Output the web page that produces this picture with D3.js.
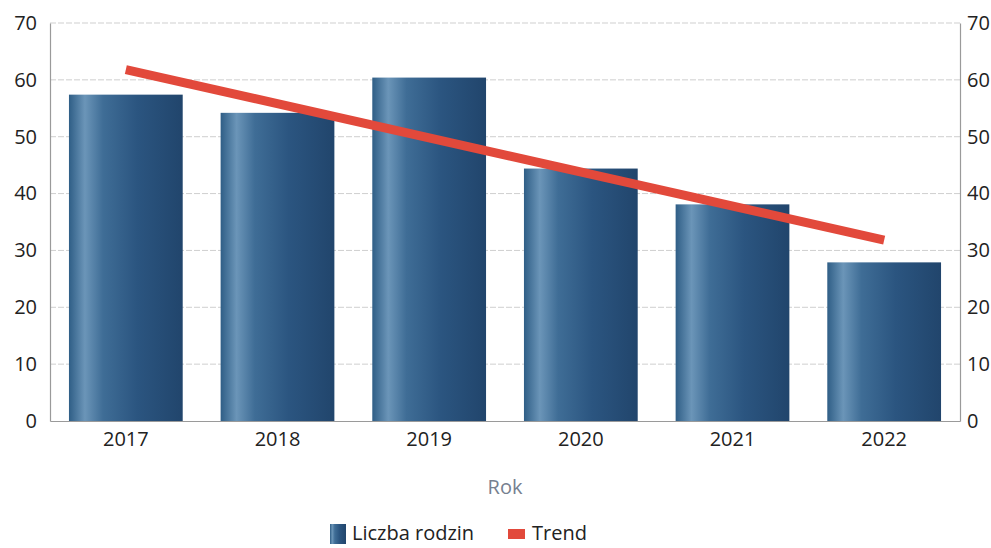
<!DOCTYPE html>
<html><head><meta charset="utf-8">
<script src="https://cdn.jsdelivr.net/npm/d3@7"></script>
<style>body{margin:0;background:#fff;} svg{display:block;font-family:"Open Sans",sans-serif;}</style>
</head><body>
<svg id="c" width="991" height="548"></svg>
<script>
const years = ["2017","2018","2019","2020","2021","2022"];
const families = [57.4, 54.2, 60.4, 44.4, 38.1, 27.9];
const trendYears = ["2017","2022"];
const trendValues = [61.8, 31.8];
const yTicks = [0,10,20,30,40,50,60,70];
const seriesNames = ["Liczba rodzin","Trend"];
const axisTitle = "Rok";

const svg = d3.select("#c");
const L=50, R=960, T=23, B=421;
const x = d3.scaleBand().domain(years).range([L,R]).paddingInner(0.25).paddingOuter(0.125);
const y = d3.scaleLinear().domain([0,70]).range([B,T]);

const defs = svg.append("defs");
const g = defs.append("linearGradient").attr("id","bar").attr("x1","0").attr("x2","1").attr("y1","0").attr("y2","0");
[[0,"#2f5e86"],[0.14,"#6b95b8"],[0.3,"#3f6d96"],[0.6,"#2b5580"],[1,"#21456c"]].forEach(s=>g.append("stop").attr("offset",s[0]).attr("stop-color",s[1]));

// gridlines
svg.append("g").selectAll("line").data(yTicks.filter(d=>d>0)).join("line")
 .attr("x1",L).attr("x2",R).attr("y1",d=>y(d)).attr("y2",d=>y(d))
 .attr("stroke","#cfcfcf").attr("stroke-width",1).attr("stroke-dasharray","6,2");

// bars
svg.append("g").selectAll("rect").data(years).join("rect")
 .attr("x",d=>x(d)).attr("width",x.bandwidth())
 .attr("y",(d,i)=>y(families[i])).attr("height",(d,i)=>B-y(families[i]))
 .attr("fill","url(#bar)");

// axes
const la = svg.append("g").attr("transform",`translate(${L},0)`).call(d3.axisLeft(y).tickValues(yTicks).tickSize(0).tickPadding(13));
const ra = svg.append("g").attr("transform",`translate(${R},0)`).call(d3.axisRight(y).tickValues(yTicks).tickSize(0).tickPadding(7));
const ba = svg.append("g").attr("transform",`translate(0,${B})`).call(d3.axisBottom(x).tickSize(0).tickPadding(11));
[la,ra,ba].forEach(a=>{
  a.select(".domain").attr("stroke","#9a9a9a").attr("stroke-width",1.2);
  a.selectAll("text").attr("font-size",20).attr("fill","#222").attr("font-family","'Open Sans',sans-serif");
});

// trend
const cx = d=>x(d)+x.bandwidth()/2;
svg.append("path").datum(trendYears.map((d,i)=>[cx(d),y(trendValues[i])]))
 .attr("d",d3.line()).attr("stroke","#e2493b").attr("stroke-width",9).attr("fill","none");

// axis title
svg.append("text").attr("x",(L+R)/2).attr("y",494).attr("text-anchor","middle")
 .attr("font-size",20).attr("fill","#76808f").text(axisTitle);

// legend
const lg = svg.append("g");
lg.append("rect").attr("x",330).attr("y",524).attr("width",16).attr("height",20).attr("fill","url(#bar)");
lg.append("text").attr("x",352).attr("y",540).attr("font-size",20).attr("fill","#222").text(seriesNames[0]);
lg.append("rect").attr("x",508).attr("y",529).attr("width",17).attr("height",10).attr("fill","#e2493b");
lg.append("text").attr("x",532).attr("y",540).attr("font-size",20).attr("fill","#222").text(seriesNames[1]);
</script>
</body></html>
